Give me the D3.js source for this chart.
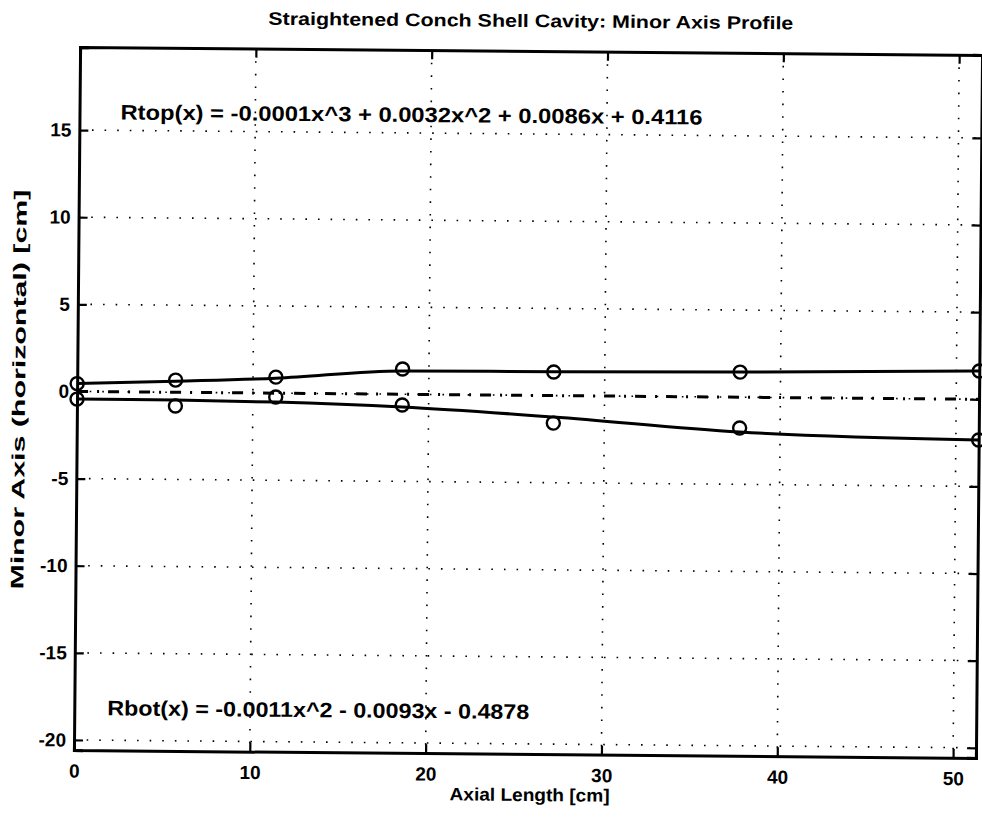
<!DOCTYPE html>
<html>
  <head>
    <meta charset="utf-8"/>
    <title>Minor Axis Profile</title>
    <style>
      body { margin: 0; background: #fff; }
      text { font-family: "Liberation Sans", Arial, sans-serif; font-weight: bold; fill: #000; }
    </style>
  </head>
  <body>
    <svg id="chart"></svg>
    <script src="https://d3js.org/d3.v7.min.js"></script>
    <script>
      const width = 982;
      const height = 822;
      const boxL = 77, boxR = 979, boxT = 51, boxB = 754;

      // data
      const axialX = [0, 5.6, 11.3, 18.5, 27.1, 37.7, 51.3];
      const topPoints = [0.45, 0.7, 0.92, 1.45, 1.35, 1.44, 1.62];
      const botPoints = [-0.44, -0.79, -0.22, -0.62, -1.58, -1.77, -2.34];
      const topFit = [0.45, 0.64, 0.86, 1.34, 1.37, 1.44, 1.62];
      const botFit = [-0.44, -0.45, -0.51, -0.73, -1.23, -2.0, -2.34];
      const centerLine = [0, 0];
      const xTicks = [0, 10, 20, 30, 40, 50];
      const yTicks = [-20, -15, -10, -5, 0, 5, 10, 15];

      const titleText = "Straightened Conch Shell Cavity: Minor Axis Profile";
      const topEq = "Rtop(x) = -0.0001x^3 + 0.0032x^2 + 0.0086x + 0.4116";
      const botEq = "Rbot(x) = -0.0011x^2 - 0.0093x - 0.4878";

      const svg = d3.select("#chart")
        .attr("width", width)
        .attr("height", height);

      // the scanned page is a little tilted
      const g = svg.append("g").attr("transform", "rotate(0.5,528,402.5)");

      const x = d3.scaleLinear().domain([0, 51.3]).range([boxL, boxR]);
      const y = d3.scaleLinear().domain([-20.58, 19.76]).range([boxB, boxT]);

      // sparse dotted grid
      const grid = g.append("g").attr("stroke", "#000").attr("stroke-width", 1.6)
        .attr("stroke-dasharray", "1.6,11");
      grid.selectAll(".gx").data(xTicks.slice(1)).enter().append("line")
        .attr("x1", d => x(d)).attr("x2", d => x(d))
        .attr("y1", boxT).attr("y2", boxB);
      grid.selectAll(".gy").data(yTicks).enter().append("line")
        .attr("x1", boxL).attr("x2", boxR)
        .attr("y1", d => y(d)).attr("y2", d => y(d));

      // axes (ticks inward, mirrored on top/right)
      g.append("g").attr("class", "axis")
        .attr("transform", "translate(0," + boxB + ")")
        .call(d3.axisBottom(x).tickValues(xTicks).tickSize(-9).tickPadding(14));
      g.append("g")
        .attr("transform", "translate(0," + boxT + ")")
        .call(d3.axisTop(x).tickValues(xTicks).tickSize(-9).tickFormat(""));
      g.append("g").attr("class", "axis")
        .attr("transform", "translate(" + boxL + ",0)")
        .call(d3.axisLeft(y).tickValues(yTicks).tickSize(-9).tickPadding(8)
          .tickFormat(d => d < 0 ? "-" + Math.abs(d) : d));
      g.append("g")
        .attr("transform", "translate(" + boxR + ",0)")
        .call(d3.axisRight(y).tickValues(yTicks).tickSize(-9).tickFormat(""));

      g.selectAll(".domain").attr("stroke", "#000").attr("stroke-width", 3);
      g.selectAll(".tick line").attr("stroke", "#000").attr("stroke-width", 2.2);
      g.selectAll(".axis .tick text").style("font-size", "19px");

      // lines
      const line = d3.line().x((d, i) => x(axialX[i])).y(d => y(d)).curve(d3.curveMonotoneX);
      g.append("path").datum(topFit).attr("d", line)
        .attr("fill", "none").attr("stroke", "#000").attr("stroke-width", 3);
      g.append("path").datum(botFit).attr("d", line)
        .attr("fill", "none").attr("stroke", "#000").attr("stroke-width", 3);
      g.append("path").datum(centerLine)
        .attr("d", d3.line().x((d, i) => x(i === 0 ? 0 : 51.3)).y(d => y(d)))
        .attr("fill", "none").attr("stroke", "#000").attr("stroke-width", 3)
        .attr("stroke-dasharray", "11,9,2,9");

      // markers
      const markers = g.append("g").attr("fill", "none").attr("stroke", "#000").attr("stroke-width", 2.4);
      markers.selectAll(".mt").data(topPoints).enter().append("circle")
        .attr("cx", (d, i) => x(axialX[i])).attr("cy", d => y(d)).attr("r", 6.5);
      markers.selectAll(".mb").data(botPoints).enter().append("circle")
        .attr("cx", (d, i) => x(axialX[i])).attr("cy", d => y(d)).attr("r", 6.5);

      // texts
      g.append("text").attr("x", 265).attr("y", 27)
        .attr("textLength", 525).attr("lengthAdjust", "spacingAndGlyphs")
        .style("font-size", "18px").text(titleText);
      g.append("text").attr("x", 118).attr("y", 123)
        .attr("textLength", 582).attr("lengthAdjust", "spacingAndGlyphs")
        .style("font-size", "21px").text(topEq);
      g.append("text").attr("x", 110).attr("y", 719)
        .attr("textLength", 422).attr("lengthAdjust", "spacingAndGlyphs")
        .style("font-size", "21px").text(botEq);
      g.append("text").attr("x", 453).attr("y", 801)
        .attr("textLength", 160).attr("lengthAdjust", "spacingAndGlyphs")
        .style("font-size", "18px").text("Axial Length [cm]");
      g.append("text").attr("transform", "translate(25,594) rotate(-90)")
        .attr("textLength", 400).attr("lengthAdjust", "spacingAndGlyphs")
        .style("font-size", "18px").text("Minor Axis (horizontal) [cm]");
    </script>
  </body>
</html>
